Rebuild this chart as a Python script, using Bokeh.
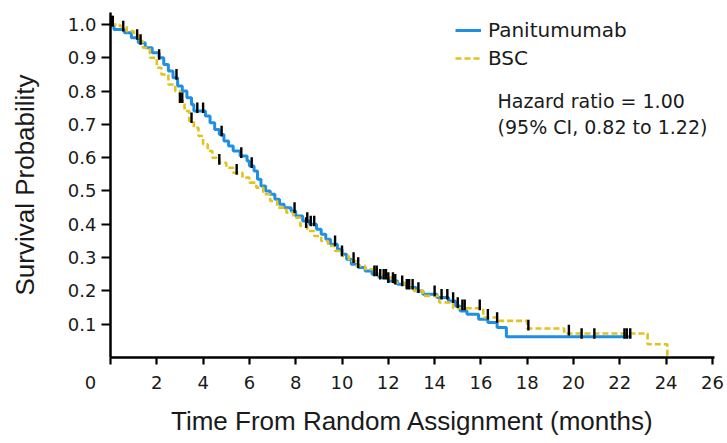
import numpy as np
from bokeh.plotting import figure
from bokeh.models import FixedTicker, Label, Legend, LegendItem, Range1d
from bokeh.embed import file_html
from bokeh.resources import INLINE

# ---- data ----
pan_times = [0, 0.15, 0.6, 0.9, 1.2, 1.5, 1.8, 2.1, 2.3, 2.5, 2.7, 2.9, 3.1, 3.3, 3.5, 3.6,
             4.1, 4.3, 4.5, 4.7, 4.9, 5.1, 5.3, 5.6, 5.9, 6.0, 6.2, 6.35, 6.5, 6.7, 6.9,
             7.1, 7.3, 7.5, 7.8, 8.0, 8.3, 8.6, 8.9, 9.1, 9.3, 9.5, 9.8, 10.0, 10.2, 10.4,
             10.7, 11.0, 11.3, 11.6, 12.0, 12.4, 12.8, 13.2, 13.5, 14.1, 14.6, 14.9, 15.1,
             15.4, 15.9, 16.3, 16.7, 17.1, 22.5]
pan_surv = [1.0, 0.985, 0.975, 0.96, 0.945, 0.93, 0.915, 0.9, 0.88, 0.86, 0.84, 0.815, 0.8,
            0.78, 0.76, 0.74, 0.725, 0.705, 0.685, 0.67, 0.65, 0.635, 0.62, 0.605, 0.59,
            0.575, 0.56, 0.535, 0.515, 0.5, 0.49, 0.475, 0.46, 0.45, 0.44, 0.425, 0.41, 0.4,
            0.385, 0.37, 0.355, 0.34, 0.325, 0.31, 0.295, 0.28, 0.27, 0.26, 0.25, 0.24, 0.23,
            0.22, 0.21, 0.2, 0.19, 0.18, 0.17, 0.155, 0.14, 0.13, 0.115, 0.105, 0.09, 0.062,
            0.062]

bsc_times = [0, 0.4, 0.7, 1.0, 1.2, 1.4, 1.7, 2.0, 2.2, 2.5, 2.8, 3.0, 3.2, 3.4, 3.6, 3.8,
             4.0, 4.2, 4.4, 4.7, 5.0, 5.3, 5.7, 6.0, 6.3, 6.6, 6.9, 7.2, 7.6, 7.9, 8.2, 8.5,
             8.8, 9.1, 9.4, 9.7, 10.0, 10.3, 10.6, 11.0, 11.4, 11.8, 12.2, 12.7, 13.1, 13.5,
             14.2, 14.8, 16.1, 16.7, 18.0, 19.6, 23.2, 24.05]
bsc_surv = [1.0, 0.995, 0.98, 0.97, 0.95, 0.93, 0.9, 0.87, 0.85, 0.82, 0.8, 0.77, 0.74, 0.71,
            0.69, 0.665, 0.64, 0.62, 0.6, 0.585, 0.57, 0.555, 0.54, 0.525, 0.51, 0.49, 0.47,
            0.45, 0.435, 0.42, 0.395, 0.38, 0.365, 0.35, 0.335, 0.32, 0.305, 0.29, 0.275,
            0.265, 0.25, 0.24, 0.225, 0.21, 0.2, 0.185, 0.165, 0.148, 0.12, 0.11, 0.087,
            0.072, 0.04, 0.0]

pan_censor = [0.1, 0.55, 1.15, 1.3, 2.1, 2.85, 3.75, 4.0, 4.8, 5.65, 6.1, 7.95, 8.5, 8.65,
              8.8, 9.7, 10.0, 11.4, 11.65, 11.8, 12.0, 12.2, 12.6, 12.8, 13.05, 14.0, 14.3,
              14.55, 14.8, 15.0, 20.35, 20.9, 22.2, 22.3, 22.45]
bsc_censor = [0.05, 3.0, 3.1, 3.5, 4.7, 5.45, 8.45, 10.5, 10.7, 11.5, 11.9, 12.3, 12.9, 13.3,
              15.2, 15.3, 15.95, 16.3, 16.7, 18.05, 19.8]

x_ticks = [0, 2, 4, 6, 8, 10, 12, 14, 16, 18, 20, 22, 24, 26]
y_ticks = [0.1, 0.2, 0.3, 0.4, 0.5, 0.6, 0.7, 0.8, 0.9, 1.0]
y_tick_labels = ["0.1", "0.2", "0.3", "0.4", "0.5", "0.6", "0.7", "0.8", "0.9", "1.0"]

series_names = ["Panitumumab", "BSC"]
hr_lines = ["Hazard ratio = 1.00", "(95% CI, 0.82 to 1.22)"]

BLUE = "#1f8fe5"
YELLOW = "#e2c21e"
TXT = "#1a1a1a"
TICK_FONT = "DejaVu Sans"
TITLE_FONT = "Liberation Sans"
NBSP = "\u00a0"


def km_at(times, surv, t):
    times = np.asarray(times)
    idx = np.searchsorted(times, t, side="right") - 1
    return np.asarray(surv)[idx]


p = figure(width=725, height=441, output_backend="svg", toolbar_location=None,
           x_range=Range1d(0, 26.09), y_range=Range1d(0, 1.036),
           min_border_left=110, min_border_right=11, min_border_top=12,
           min_border_bottom=84)
p.outline_line_color = None
p.grid.visible = False
p.background_fill_color = "white"

r_pan = p.step(pan_times, pan_surv, mode="after", line_color=BLUE, line_width=3)
r_bsc = p.step(bsc_times, bsc_surv, mode="after", line_color=YELLOW, line_width=2.6,
               line_dash="6 3")

# censor marks
for times, surv, cens in [(pan_times, pan_surv, pan_censor), (bsc_times, bsc_surv, bsc_censor)]:
    cy = km_at(times, surv, np.asarray(cens))
    p.segment(x0=cens, y0=cy - 0.006, x1=cens, y1=cy + 0.026, line_color="black",
              line_width=2.4)

# axes
for ax in (p.xaxis[0], p.yaxis[0]):
    ax.axis_line_width = 2.5
    ax.axis_line_color = "black"
    ax.major_tick_line_width = 2.2
    ax.major_tick_line_color = "black"
    ax.major_tick_in = 0
    ax.minor_tick_line_color = None
    ax.major_label_text_color = TXT
    ax.axis_label_text_color = TXT
    ax.axis_label_text_font_style = "normal"
    ax.major_label_text_font = TICK_FONT
    ax.major_label_text_font_size = "18px"
    ax.axis_label_text_font = TITLE_FONT
    ax.axis_label_text_font_size = "26px"

p.xaxis.ticker = FixedTicker(ticks=x_ticks)
# the "0" label sits left of the origin in the original figure
p.xaxis.major_label_overrides = {0: "0" + NBSP * 7}
p.xaxis.major_tick_out = 7
p.xaxis.major_label_standoff = 7
p.xaxis.axis_label = "Time From Random Assignment (months)"
p.xaxis.axis_label_standoff = 10

p.yaxis.ticker = FixedTicker(ticks=y_ticks)
p.yaxis.major_label_overrides = dict(zip(y_ticks, y_tick_labels))
p.yaxis.major_tick_out = 9
p.yaxis.major_label_standoff = 5
p.yaxis.axis_label = "Survival Probability"
p.yaxis.axis_label_standoff = 25

legend = Legend(items=[LegendItem(label=series_names[0], renderers=[r_pan]),
                       LegendItem(label=series_names[1], renderers=[r_bsc])],
                location=(345, 287), padding=0, margin=0, spacing=4,
                glyph_width=26, glyph_height=20, label_height=20, label_standoff=7,
                label_text_font=TICK_FONT, label_text_font_size="20px",
                label_text_color=TXT, border_line_color=None,
                background_fill_alpha=0)
p.add_layout(legend)

for i, line in enumerate(hr_lines):
    p.add_layout(Label(x=16.72, y=0.769 - i * 0.078, text=line,
                       text_font=TICK_FONT, text_font_size="19px", text_color=TXT,
                       text_align="left", text_baseline="middle"))

open("out.html", "w").write(file_html(p, INLINE))
